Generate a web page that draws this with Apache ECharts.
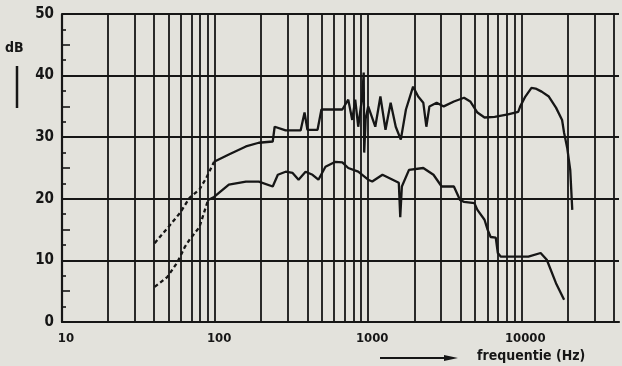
<!DOCTYPE html>
<html><head><meta charset="utf-8">
<script src="https://cdn.jsdelivr.net/npm/echarts@6/dist/echarts.min.js"></script>
<style>html,body{margin:0;padding:0;background:#e3e2dc}#c{width:622px;height:366px}</style>
</head><body><div id="c"></div>
<script>
// tick / grid values
const xDecades = [10, 100, 1000, 10000];
const xMinorGrid = [20,30,40,50,60,70,80,90,200,300,400,500,600,700,800,900,2000,3000,4000,5000,6000,7000,8000,9000,20000,30000,40000];
const yMin = 0, yMax = 50, yStep = 10;

// upper curve (dashed low-frequency part, then solid)
const upperDashFreq = [40.3, 50.2, 59, 68.3, 79, 87.7, 98.5];
const upperDashDb   = [12.8, 15.6, 17.7, 20.2, 21.5, 23.4, 26.0];
const upperFreq = [98.5,123,159,193,238,245,289,362,384,401,467,495,611,678,741,787,823,861,914,935,942,963,1000,1113,1202,1298,1402,1514,1634,1765,1965,2122,2291,2399,2512,2800,3117,3631,4230,4642,5171,5754,6704,8192,9550,9847,10633,11659,12400,13590,15140,16860,18480,19050,19950,20890,21540];
const upperDb   = [26.0,27.2,28.5,29.1,29.3,31.7,31.1,31.1,34.0,31.2,31.2,34.5,34.5,34.5,36.1,32.8,36.1,31.7,36.6,40.5,27.5,33.0,35.0,31.7,36.6,31.2,35.6,31.7,29.6,34.5,38.2,36.6,35.6,31.7,35.0,35.6,35.0,35.8,36.4,35.8,34.0,33.2,33.3,33.7,34.1,35.0,36.6,38.0,37.9,37.4,36.6,34.8,32.8,30.7,28.3,24.7,18.2];

// lower curve
const lowerDashFreq = [40.3, 48.7, 56.4, 63.5, 68.3, 79, 90];
const lowerDashDb   = [5.7, 7.3, 9.6, 12.2, 13.4, 15.4, 19.8];
const lowerFreq = [90,98.5,123,159,193,238,257,289,321,351,390,433,473,526,611,678,741,861,1000,1063,1240,1445,1585,1620,1660,1848,2291,2670,3020,3631,3981,4230,4943,5171,5754,6026,6310,6813,7030,7360,8577,11130,13380,14680,16860,19050];
const lowerDb   = [19.8,20.3,22.3,22.8,22.8,22.0,23.9,24.4,24.2,23.1,24.4,23.9,23.1,25.2,26.0,25.9,25.0,24.4,23.1,22.8,23.9,23.1,22.6,17.0,22.0,24.7,25.0,23.9,22.0,22.0,19.8,19.5,19.3,18.2,16.6,15.0,13.8,13.7,11.2,10.6,10.6,10.6,11.2,10.1,6.3,3.6];

const zip = (a, b) => a.map((v, i) => [v, b[i]]);
const INK = '#161616';
const FONT = '"DejaVu Sans Condensed", "DejaVu Sans", sans-serif';

const chart = echarts.init(document.getElementById('c'), null, {renderer: 'canvas'});
const curveStyle = {color: INK, width: 2.3};
chart.setOption({
  backgroundColor: '#e3e2dc',
  animation: false,
  grid: {left: 62, top: 14, right: 0, bottom: 44},
  xAxis: {
    type: 'log', logBase: 10, min: 10, max: 43500,
    axisLine: {show: true, lineStyle: {color: INK, width: 2.2}},
    axisTick: {show: false},
    splitLine: {show: true, showMaxLine: false, lineStyle: {color: INK, width: 1.8}},
    axisLabel: {
      formatter: v => xDecades.some(d => Math.abs(d - v) < d * 1e-6) ? String(Math.round(v)) : '',
      fontFamily: FONT, fontWeight: 'bold', fontSize: 13, color: INK,
      margin: 10, padding: [0, 0, 0, 8]
    }
  },
  yAxis: [{
    type: 'value', min: yMin, max: yMax, interval: yStep,
    axisLine: {show: true, lineStyle: {color: INK, width: 2.2}},
    axisTick: {show: false},
    splitLine: {show: true, lineStyle: {color: INK, width: 1.8}},
    axisLabel: {fontFamily: FONT, fontWeight: 'bold', fontSize: 15, color: INK, margin: 8}
  }, {
    type: 'value', min: yMin, max: yMax, interval: yStep / 2, position: 'left',
    axisLine: {show: false},
    axisTick: {show: true, inside: true, length: 8, lineStyle: {color: INK, width: 1.6}},
    minorTick: {show: true, splitNumber: 2, length: 4, lineStyle: {color: INK, width: 1.6}},
    axisLabel: {show: false},
    splitLine: {show: false}
  }],
  series: [
    {type: 'line', data: zip(upperDashFreq, upperDashDb), symbol: 'none', lineStyle: Object.assign({type: [4, 3]}, curveStyle),
     markLine: {silent: true, symbol: ['none', 'none'], label: {show: false},
       lineStyle: {color: INK, width: 1.8, type: 'solid'},
       data: xMinorGrid.map(v => ({xAxis: v}))}},
    {type: 'line', data: zip(upperFreq, upperDb), symbol: 'none', lineStyle: curveStyle},
    {type: 'line', data: zip(lowerDashFreq, lowerDashDb), symbol: 'none', lineStyle: Object.assign({type: [4, 3]}, curveStyle)},
    {type: 'line', data: zip(lowerFreq, lowerDb), symbol: 'none', lineStyle: curveStyle}
  ],
  graphic: [
    {type: 'text', left: 5, top: 41, style: {text: 'dB', font: 'bold 14px ' + FONT, fill: INK}},
    {type: 'line', shape: {x1: 17, y1: 66, x2: 17, y2: 108}, style: {stroke: INK, lineWidth: 2.5}},
    {type: 'text', left: 477, top: 349, style: {text: 'frequentie (Hz)', font: 'bold 14px ' + FONT, fill: INK}},
    {type: 'line', shape: {x1: 380, y1: 358, x2: 448, y2: 358}, style: {stroke: INK, lineWidth: 2}},
    {type: 'polygon', shape: {points: [[444, 355], [458, 358], [444, 361]]}, style: {fill: INK}}
  ]
});
</script>
</body></html>
